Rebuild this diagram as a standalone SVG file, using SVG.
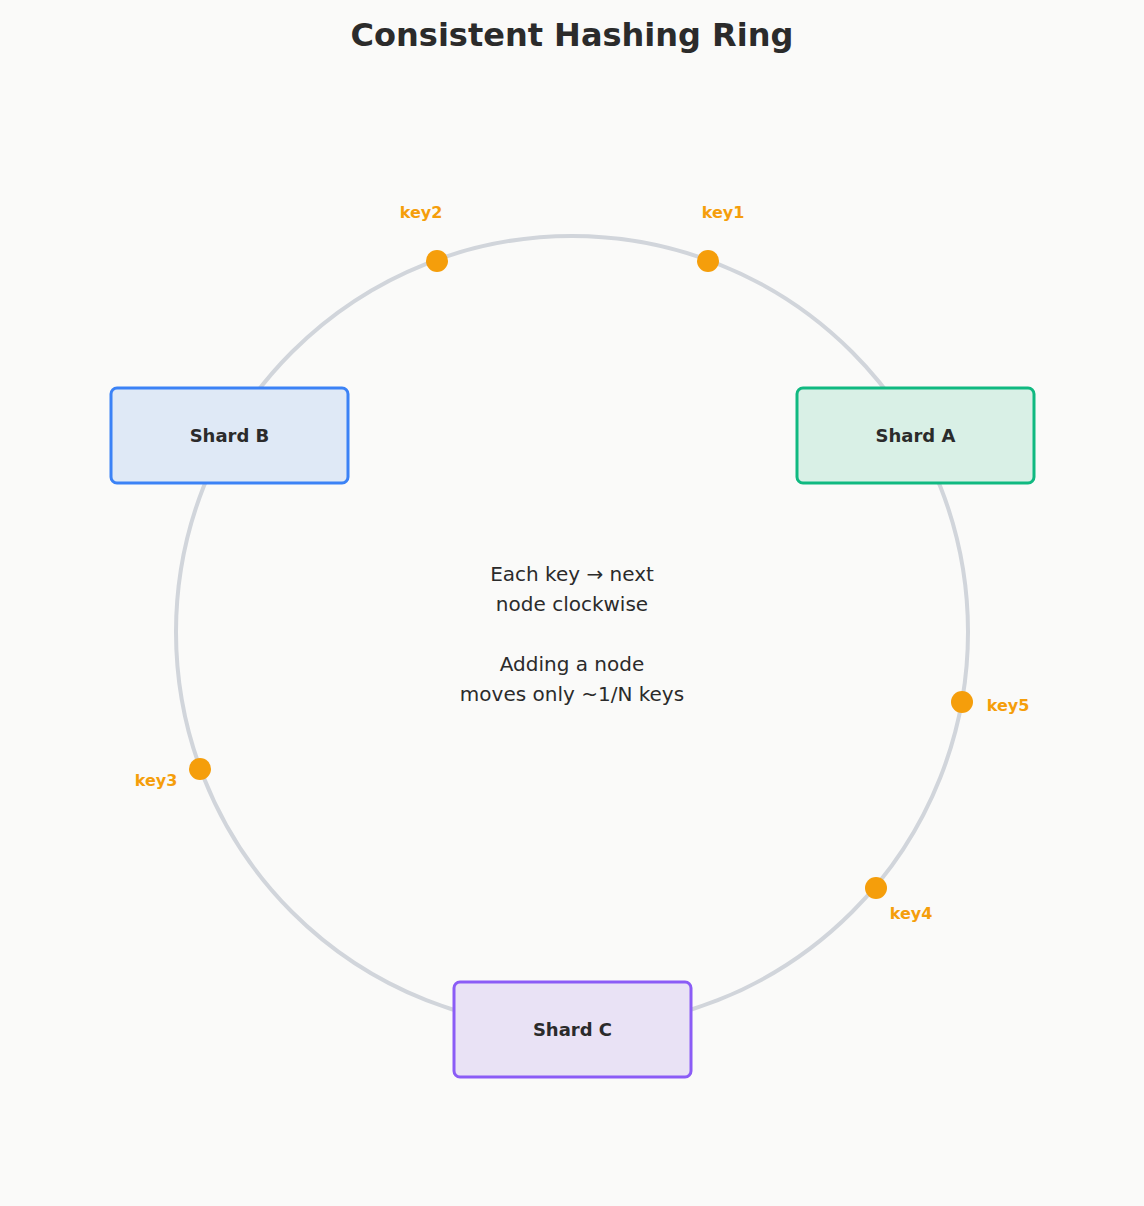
<svg xmlns="http://www.w3.org/2000/svg" width="1144" height="1206" viewBox="0 0 1144 1206">
<style>
text{font-family:"DejaVu Sans","Noto Sans",sans-serif}
.title{font-size:32px;font-weight:bold;fill:#2b2b2b}
.lbl{font-size:18px;font-weight:bold;fill:#2b2b2b}
.key{font-size:16px;font-weight:bold;fill:#f59e0b}
.dot{fill:#f59e0b}
.mid{font-size:20px;fill:#2b2b2b}
</style>
<rect width="1144" height="1206" fill="#fafaf9"/>
<text class="title" x="572" y="46" text-anchor="middle">Consistent Hashing Ring</text>
<g id="connectors">
<circle cx="572" cy="632" r="396" fill="none" stroke="#d1d5db" stroke-width="4"/>
</g>
<g id="shardA"><rect x="797" y="388" width="237" height="95" rx="6" fill="#d9f0e6" stroke="#10b981" stroke-width="3"/><text class="lbl" x="915.5" y="442" text-anchor="middle">Shard A</text></g>
<g id="shardB"><rect x="111" y="388" width="237" height="95" rx="6" fill="#dfe9f6" stroke="#3b82f6" stroke-width="3"/><text class="lbl" x="229.5" y="442" text-anchor="middle">Shard B</text></g>
<g id="shardC"><rect x="454" y="982" width="237" height="95" rx="6" fill="#e9e2f5" stroke="#8b5cf6" stroke-width="3"/><text class="lbl" x="572.5" y="1036" text-anchor="middle">Shard C</text></g>
<g id="key1"><circle class="dot" cx="708" cy="261" r="11"/><text class="key" x="723" y="218" text-anchor="middle">key1</text></g>
<g id="key2"><circle class="dot" cx="437" cy="261" r="11"/><text class="key" x="421" y="218" text-anchor="middle">key2</text></g>
<g id="key3"><circle class="dot" cx="200" cy="769" r="11"/><text class="key" x="156" y="786" text-anchor="middle">key3</text></g>
<g id="key4"><circle class="dot" cx="876" cy="888" r="11"/><text class="key" x="911" y="919" text-anchor="middle">key4</text></g>
<g id="key5"><circle class="dot" cx="962" cy="702" r="11"/><text class="key" x="1008" y="711" text-anchor="middle">key5</text></g>
<g id="note">
<text class="mid" x="572" y="581" text-anchor="middle">Each key → next</text>
<text class="mid" x="572" y="611" text-anchor="middle">node clockwise</text>
<text class="mid" x="572" y="671" text-anchor="middle">Adding a node</text>
<text class="mid" x="572" y="701" text-anchor="middle">moves only ~1/N keys</text>
</g>
</svg>
